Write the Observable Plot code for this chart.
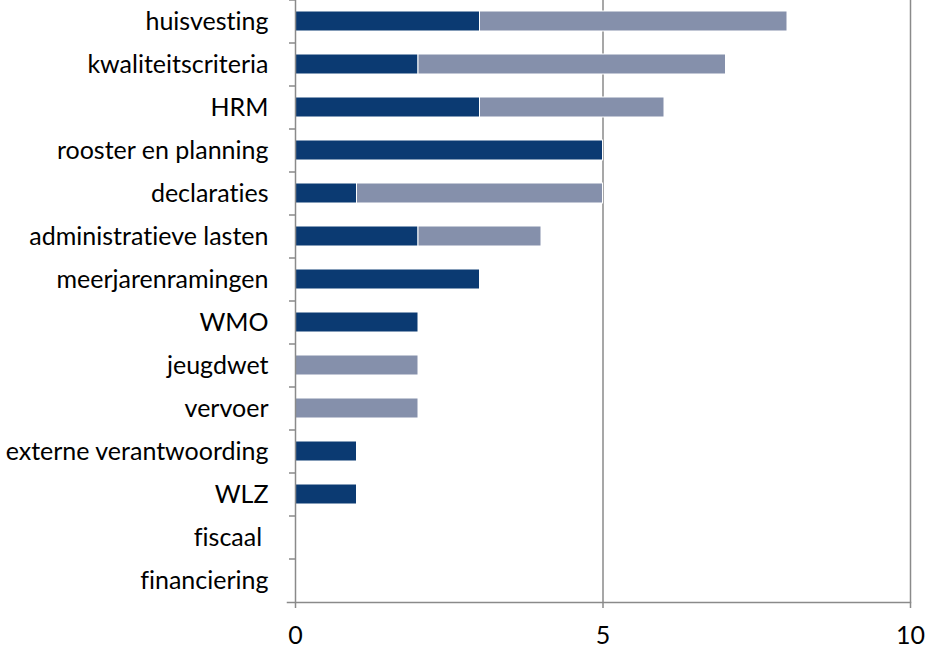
<!DOCTYPE html>
<html>
<head>
<meta charset="utf-8">
<script src="https://cdn.jsdelivr.net/npm/d3@7"></script>
<script src="https://cdn.jsdelivr.net/npm/@observablehq/plot@0.6"></script>
<style>
  html, body { margin: 0; padding: 0; background: #fff; }
  #chart svg { display: block; font-variant-ligatures: none; font-feature-settings: "liga" 0, "clig" 0; }
  #chart svg text { white-space: pre; }
</style>
</head>
<body>
<div id="chart"></div>
<script>
const categories = ["huisvesting", "kwaliteitscriteria", "HRM", "rooster en planning", "declaraties",
  "administratieve lasten", "meerjarenramingen", "WMO", "jeugdwet", "vervoer",
  "externe verantwoording", "WLZ", "fiscaal\u00a0", "financiering"];
const seriesNames = ["A", "B"];
const darkValues  = [3, 2, 3, 5, 1, 2, 3, 2, 0, 0, 1, 1, 0, 0];
const lightValues = [5, 5, 3, 0, 4, 2, 0, 0, 2, 2, 0, 0, 0, 0];
const xTicks = [0, 5, 10];
const colors = ["#0b3a72", "#8590ab"];

const rows = [];
categories.forEach((c, i) => {
  rows.push({cat: c, series: seriesNames[0], value: darkValues[i]});
  rows.push({cat: c, series: seriesNames[1], value: lightValues[i]});
});

const font = "Lato, 'Open Sans', sans-serif";

const chart = Plot.plot({
  width: 929,
  height: 649,
  marginTop: 0,
  marginBottom: 47,
  marginLeft: 295,
  marginRight: 19,
  style: {fontFamily: font, fontSize: "25px", color: "#000", background: "#fff"},
  x: {domain: [0, 10]},
  y: {domain: categories, paddingInner: 0.53, paddingOuter: 0.265},
  color: {domain: seriesNames, range: colors},
  marks: [
    Plot.ruleX(xTicks.slice(1), {stroke: "#8a8a8a", strokeWidth: 1.5}),
    Plot.barX(rows.filter(d => d.value > 0), Plot.stackX({
      x: "value", y: "cat", fill: "series", order: seriesNames,
      stroke: "white", strokeWidth: 1
    })),
    Plot.ruleX([0], {stroke: "#8a8a8a", strokeWidth: 1.5}),
    Plot.ruleY(categories, {y: d => d, x1: 0, x2: 0, insetLeft: -6, dy: -21.5, stroke: "#8a8a8a", strokeWidth: 1.5}),
    Plot.frame({anchor: "bottom", stroke: "#8a8a8a", strokeWidth: 1.5, insetLeft: -8}),
    Plot.axisY({tickSize: 0, tickPadding: 27, label: null, fontSize: 25, fill: "#000"}),
    Plot.axisX({ticks: xTicks, tickSize: 6, tickPadding: 18, label: null, fontSize: 25, fill: "#000", stroke: "#8a8a8a", strokeWidth: 1.5})
  ]
});
document.getElementById("chart").appendChild(chart);
</script>
</body>
</html>
